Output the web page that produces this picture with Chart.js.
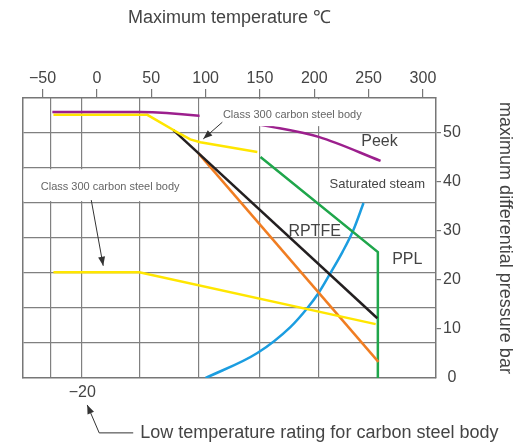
<!DOCTYPE html>
<html>
<head>
<meta charset="utf-8">
<script src="https://cdn.jsdelivr.net/npm/chart.js@4.4.1/dist/chart.umd.min.js"></script>
<style>
  html, body { margin: 0; padding: 0; background: #fff; }
  #wrap { width: 520px; height: 448px; }
</style>
</head>
<body>
<div id="wrap"><canvas id="chart" width="520" height="448"></canvas></div>
<script>
// tick labels: top axis in °C, right axis in bar
const tempTicks = [-50, 0, 50, 100, 150, 200, 250, 300];
const barTicks = [0, 10, 20, 30, 40, 50];
// the diagram has its own grid that does not follow the tick values
const gridTemp = [-43, -14.5, 39, 93.3, 149.4, 203.8];
const gridBar = [7.14, 14.29, 21.43, 28.57, 35.71, 42.86, 50];

// curves as [temperature °C, pressure bar]
const peek = [[-41, 54.3], [40, 54.3], [94, 53.5], [162, 51.2], [204, 49.2], [261, 44.3]];
const steelUpper = [[-40, 53.7], [46.4, 53.7], [76.7, 49.8], [85.9, 48.7], [95.1, 48.1], [147.6, 46.1]];
const steelLower = [[-40, 21.6], [39, 21.6], [256.5, 11.0]];
const rptfeBlack = [[70.4, 50.6], [258, 12.2]];
const rptfeOrange = [[93.3, 45.9], [259, 3.3]];
const ppl = [[150.5, 45.1], [258.5, 25.7], [258.5, 0]];
const steam = [[100, 0], [147.6, 5.1], [178, 10.4], [193.7, 14.3], [203.8, 17.3], [214.8, 21.4], [225.9, 25.7], [236, 30.2], [245.3, 35.7]];

const FONT = "'Liberation Sans', Arial, sans-serif";
const TEXT = '#444';
const GRID = '#808080';

Chart.defaults.font.family = FONT;
Chart.defaults.color = TEXT;

const toXY = arr => arr.map(p => ({ x: p[0], y: p[1] }));

function line(label, pts, color, smooth) {
  return {
    label: label,
    data: toXY(pts),
    borderColor: color,
    borderWidth: 2.5,
    borderCapStyle: 'butt',
    pointRadius: 0,
    fill: false,
    tension: 0,
    cubicInterpolationMode: smooth ? 'monotone' : 'default',
    xAxisID: 'x',
    yAxisID: 'y'
  };
}

// labels, white masks and arrows, placed in chart values
const masks = [
  { x1: 94.5, x2: 245, y1: 56.9, y2: 51.4 },
  { x1: -67.5, x2: 92.5, y1: 42.6, y2: 36.1 }
];
const notes = [
  { text: 'Class 300 carbon steel body', x: 179.8, y: 53.7, size: 11, color: '#666' },
  { text: 'Class 300 carbon steel body', x: 12.2, y: 39.0, size: 11, color: '#666' },
  { text: 'Peek', x: 260, y: 48.2, size: 16, color: TEXT },
  { text: 'Saturated steam', x: 258, y: 39.6, size: 13, color: TEXT },
  { text: 'RPTFE', x: 200.3, y: 29.8, size: 16, color: TEXT },
  { text: 'PPL', x: 285.6, y: 24.1, size: 16, color: TEXT },
  { text: '\u221220', x: -13.5, y: -2.9, size: 16, color: TEXT },
  { text: 'Low temperature rating for carbon steel body', x: 39.9, y: -11.2, size: 18, color: TEXT, align: 'left' }
];
const arrows = [
  [[115.4, 52.2], [97.9, 48.8]],
  [[-5.2, 36.3], [5.8, 22.9]],
  [[33.4, -11.2], [2.1, -11.2], [-8.9, -5.5]]
];

const notesPlugin = {
  id: 'notes',
  afterDatasetsDraw(chart) {
    const ctx = chart.ctx;
    const sx = chart.scales.x, sy = chart.scales.y;
    const px = v => sx.getPixelForValue(v);
    const py = v => sy.getPixelForValue(v);
    ctx.save();
    ctx.fillStyle = '#fff';
    masks.forEach(m => {
      ctx.fillRect(px(m.x1), py(m.y1), px(m.x2) - px(m.x1), py(m.y2) - py(m.y1));
    });
    notes.forEach(n => {
      ctx.font = n.size + 'px ' + FONT;
      ctx.fillStyle = n.color;
      ctx.textAlign = n.align || 'center';
      ctx.textBaseline = 'middle';
      ctx.fillText(n.text, px(n.x), py(n.y));
    });
    ctx.strokeStyle = '#333';
    ctx.fillStyle = '#333';
    ctx.lineWidth = 1;
    arrows.forEach(a => {
      const pts = a.map(p => [px(p[0]), py(p[1])]);
      ctx.beginPath();
      ctx.moveTo(pts[0][0], pts[0][1]);
      for (let i = 1; i < pts.length; i++) ctx.lineTo(pts[i][0], pts[i][1]);
      ctx.stroke();
      const [ax, ay] = pts[pts.length - 2];
      const [bx, by] = pts[pts.length - 1];
      const ang = Math.atan2(by - ay, bx - ax);
      ctx.beginPath();
      ctx.moveTo(bx, by);
      ctx.lineTo(bx - 9 * Math.cos(ang) + 3.5 * Math.sin(ang), by - 9 * Math.sin(ang) - 3.5 * Math.cos(ang));
      ctx.lineTo(bx - 9 * Math.cos(ang) - 3.5 * Math.sin(ang), by - 9 * Math.sin(ang) + 3.5 * Math.cos(ang));
      ctx.closePath();
      ctx.fill();
    });
    ctx.restore();
  }
};

new Chart(document.getElementById('chart'), {
  type: 'line',
  data: {
    datasets: [
      line('Peek', peek, '#9c1f8d', true),
      line('Class 300 carbon steel body', steelUpper, '#ffe600', false),
      line('Class 300 carbon steel body (low)', steelLower, '#ffe600', false),
      line('RPTFE', rptfeBlack, '#231f20', false),
      line('RPTFE (2)', rptfeOrange, '#f07d22', false),
      line('PPL', ppl, '#1fa64b', false),
      line('Saturated steam', steam, '#1b9de0', true)
    ]
  },
  options: {
    responsive: false,
    animation: false,
    devicePixelRatio: 1,
    layout: { padding: 0 },
    plugins: { legend: { display: false }, tooltip: { enabled: false } },
    scales: {
      x: {
        type: 'linear', position: 'top', min: -68, max: 312,
        afterBuildTicks: s => { s.ticks = tempTicks.map(v => ({ value: v })); },
        afterFit: s => { s.height = 98; },
        ticks: {
          autoSkip: false, maxRotation: 0, padding: 1, color: TEXT, font: { size: 16 },
          callback: v => v < 0 ? '\u2212' + Math.abs(v) : String(v)
        },
        grid: { drawOnChartArea: false, tickLength: 9, color: '#777', lineWidth: 1.2 },
        border: { color: '#777', width: 1.5 },
        title: { display: true, text: 'Maximum temperature \u2103', color: TEXT, font: { size: 18 }, padding: { top: 7, bottom: 0 } }
      },
      y: {
        type: 'linear', position: 'right', min: 0, max: 57.14,
        afterBuildTicks: s => { s.ticks = barTicks.map(v => ({ value: v })); },
        afterFit: s => { s.width = 84; },
        ticks: { autoSkip: false, crossAlign: 'center', padding: 2, color: TEXT, font: { size: 16 } },
        grid: {
          drawOnChartArea: false, tickLength: 5, lineWidth: 1.2,
          color: c => (c.tick && c.tick.value === 0) ? 'rgba(0,0,0,0)' : '#777'
        },
        border: { color: '#777', width: 1.5 },
        title: { display: true, text: 'maximum differential pressure bar', color: TEXT, font: { size: 18 }, padding: { top: 4, bottom: 0 } }
      },
      gx: {
        type: 'linear', position: 'bottom', min: -68, max: 312,
        afterBuildTicks: s => { s.ticks = gridTemp.map(v => ({ value: v })); },
        afterFit: s => { s.height = 70; },
        ticks: { display: false },
        grid: { drawTicks: false, color: GRID, lineWidth: 1.2 },
        border: { color: '#777', width: 1.5 }
      },
      gy: {
        type: 'linear', position: 'left', min: 0, max: 57.14,
        afterBuildTicks: s => { s.ticks = gridBar.map(v => ({ value: v })); },
        afterFit: s => { s.width = 23; },
        ticks: { display: false },
        grid: { drawTicks: false, color: GRID, lineWidth: 1.2 },
        border: { color: '#777', width: 1.5 }
      }
    }
  },
  plugins: [notesPlugin]
});
</script>
</body>
</html>
